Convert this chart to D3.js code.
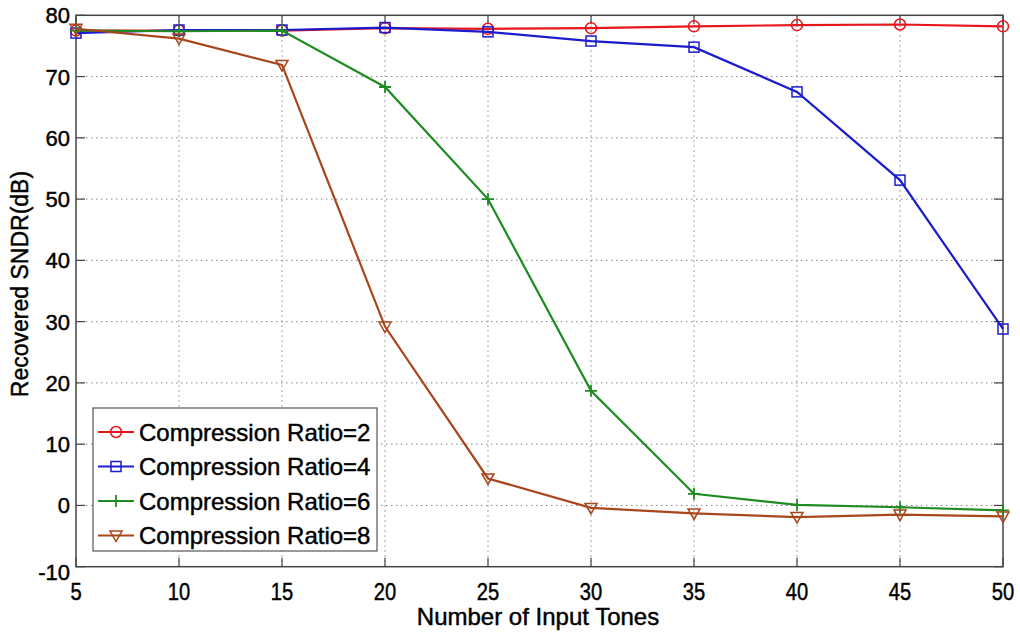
<!DOCTYPE html>
<meta charset="utf-8">
<style>
    body { margin: 0; background: #fff; }
    text { font-family: "Liberation Sans", Arial, sans-serif; fill: #000; stroke: #000; stroke-width: 0.45px; }
    .grid line { stroke: #888; stroke-width: 1; stroke-dasharray: 1.5,3.5; }
    .frame { fill: none; stroke: #444; stroke-width: 1.5; }
    .tick-mark { stroke: #444; stroke-width: 1.2; }
</style>
<svg width="1020" height="633"></svg>
<script src="https://d3js.org/d3.v7.min.js"></script>
<script>

    var tones = [5, 10, 15, 20, 25, 30, 35, 40, 45, 50];
    var ratio2 = [77.5, 77.5, 77.5, 77.9, 77.8, 77.9, 78.2, 78.4, 78.5, 78.2];
    var ratio4 = [77.1, 77.6, 77.6, 78.0, 77.3, 75.8, 74.8, 67.5, 53.1, 28.8];
    var ratio6 = [77.5, 77.4, 77.5, 68.3, 50.0, 18.7, 1.9, 0.1, -0.3, -0.8];
    var ratio8 = [77.8, 76.2, 71.9, 29.2, 4.4, -0.4, -1.3, -1.9, -1.5, -1.8];
    var xTicks = [5, 10, 15, 20, 25, 30, 35, 40, 45, 50];
    var yTicks = [-10, 0, 10, 20, 30, 40, 50, 60, 70, 80];

    var series = [
        { name: "Compression Ratio=2", values: ratio2, color: "#e8161c", marker: "circle" },
        { name: "Compression Ratio=4", values: ratio4, color: "#1c1ccc", marker: "square" },
        { name: "Compression Ratio=6", values: ratio6, color: "#1e8c22", marker: "plus" },
        { name: "Compression Ratio=8", values: ratio8, color: "#a8461c", marker: "triangle" }
    ];

    var svg = d3.select("svg");
    var pLeft = 76, pRight = 1003, pTop = 15.3, pBottom = 566.7;

    var x = d3.scaleLinear().domain([5, 50]).range([pLeft, pRight]);
    var y = d3.scaleLinear().domain([-10, 80]).range([pBottom, pTop]);

    // grid
    var grid = svg.append("g").attr("class", "grid");
    grid.selectAll(".gx").data(xTicks.slice(1, -1)).enter().append("line")
        .attr("x1", d => x(d)).attr("x2", d => x(d))
        .attr("y1", pTop).attr("y2", pBottom);
    grid.selectAll(".gy").data(yTicks.slice(1, -1)).enter().append("line")
        .attr("y1", d => y(d)).attr("y2", d => y(d))
        .attr("x1", pLeft).attr("x2", pRight);

    // frame and inward ticks
    svg.append("rect").attr("class", "frame")
        .attr("x", pLeft).attr("y", pTop)
        .attr("width", pRight - pLeft).attr("height", pBottom - pTop);

    var tl = 9;
    var ticks = svg.append("g");
    xTicks.forEach(function (t) {
        ticks.append("line").attr("class", "tick-mark")
            .attr("x1", x(t)).attr("x2", x(t)).attr("y1", pBottom).attr("y2", pBottom - tl);
        ticks.append("line").attr("class", "tick-mark")
            .attr("x1", x(t)).attr("x2", x(t)).attr("y1", pTop).attr("y2", pTop + tl);
    });
    yTicks.forEach(function (t) {
        ticks.append("line").attr("class", "tick-mark")
            .attr("y1", y(t)).attr("y2", y(t)).attr("x1", pLeft).attr("x2", pLeft + tl);
        ticks.append("line").attr("class", "tick-mark")
            .attr("y1", y(t)).attr("y2", y(t)).attr("x1", pRight).attr("x2", pRight - tl);
    });

    // tick labels (x labels are drawn condensed like the original)
    svg.append("g").selectAll("text").data(xTicks).enter().append("text")
        .attr("transform", d => "translate(" + x(d) + ",600) scale(0.84,1)")
        .attr("text-anchor", "middle")
        .attr("font-size", 24)
        .text(d => d);

    svg.append("g").selectAll("text").data(yTicks).enter().append("text")
        .attr("x", 70).attr("y", d => y(d) + (d === -10 ? 13 : 8))
        .attr("text-anchor", "end")
        .attr("font-size", 22)
        .text(d => d);

    // axis titles
    svg.append("text")
        .attr("x", 538).attr("y", 625)
        .attr("text-anchor", "middle")
        .attr("font-size", 24)
        .text("Number of Input Tones");

    svg.append("text")
        .attr("transform", "translate(28,284) rotate(-90)")
        .attr("text-anchor", "middle")
        .attr("font-size", 23)
        .text("Recovered SNDR(dB)");

    function drawMarker(g, type, color) {
        if (type === "circle") {
            g.append("circle").attr("r", 5.5)
                .attr("fill", "none").attr("stroke", color).attr("stroke-width", 1.5);
        } else if (type === "square") {
            g.append("rect").attr("x", -5).attr("y", -5).attr("width", 10).attr("height", 10)
                .attr("fill", "none").attr("stroke", color).attr("stroke-width", 1.5);
        } else if (type === "plus") {
            g.append("path").attr("d", "M-6,0H6M0,-6V6")
                .attr("fill", "none").attr("stroke", color).attr("stroke-width", 1.8);
        } else {
            g.append("path").attr("d", "M-6,-4.5L6,-4.5L0,6Z")
                .attr("fill", "none").attr("stroke", color).attr("stroke-width", 1.5);
        }
    }

    var line = d3.line()
        .x((d, i) => x(tones[i]))
        .y(d => y(d));

    series.forEach(function (s) {
        svg.append("path")
            .attr("d", line(s.values))
            .attr("fill", "none")
            .attr("stroke", s.color)
            .attr("stroke-width", 2.2);

        svg.append("g").selectAll("g").data(s.values).enter().append("g")
            .attr("transform", (d, i) => "translate(" + x(tones[i]) + "," + y(d) + ")")
            .each(function () { drawMarker(d3.select(this), s.marker, s.color); });
    });

    // legend
    var legend = svg.append("g");
    legend.append("rect")
        .attr("x", 93).attr("y", 408)
        .attr("width", 284).attr("height", 143)
        .attr("fill", "#fff").attr("stroke", "#555").attr("stroke-width", 1.2);

    series.forEach(function (s, i) {
        var ly = 432 + i * 34.5;
        legend.append("line")
            .attr("x1", 98).attr("x2", 134).attr("y1", ly).attr("y2", ly)
            .attr("stroke", s.color).attr("stroke-width", 2);
        drawMarker(legend.append("g").attr("transform", "translate(116," + ly + ")"), s.marker, s.color);
        legend.append("text")
            .attr("x", 139).attr("y", ly + 8.5)
            .attr("font-size", 24)
            .text(s.name);
    });

</script>
